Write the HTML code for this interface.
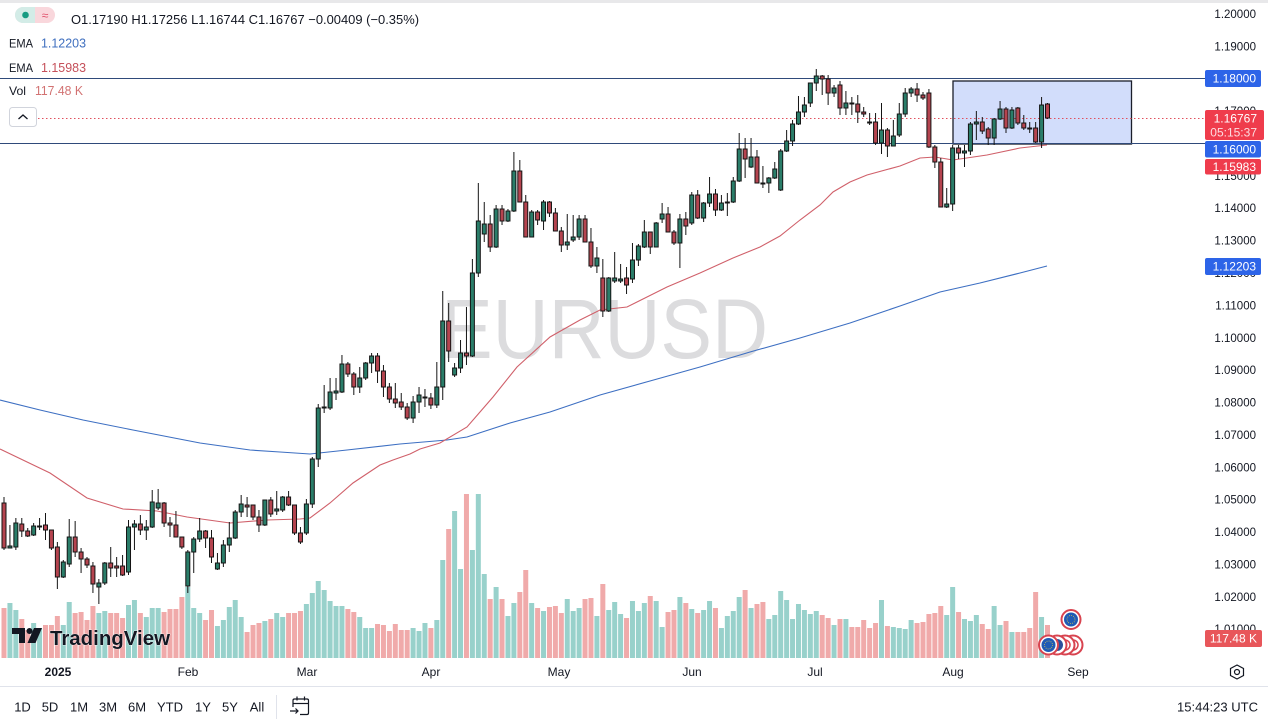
<!DOCTYPE html>
<html><head><meta charset="utf-8">
<style>
html,body{margin:0;padding:0;background:#fff;width:1268px;height:723px;overflow:hidden}
svg{display:block;font-family:"Liberation Sans",sans-serif}
</style></head><body>
<svg id="c" width="1268" height="723" viewBox="0 0 1268 723" xmlns="http://www.w3.org/2000/svg">
<rect width="1268" height="723" fill="#fff"/>
<rect width="1268" height="3" fill="#e8e8ea"/>
<text x="441" y="358" font-size="84" fill="#dcdcde" textLength="327" lengthAdjust="spacingAndGlyphs">EURUSD</text>
<g id="vol"></g>
<rect x="953" y="81" width="178.5" height="63" fill="#d2ddfb" stroke="#1b1e2a" stroke-width="1.3"/>
<polyline fill="none" stroke="#3d6fc2" stroke-width="1.1" points="0,400 40,410 83,420 133,430 200,443 250,450 280,452 310,454 347,450 400,444 447,440 467,437 510,423 550,412 600,395 650,381 700,367 750,352 800,338 850,323 900,306 940,292 980,283 1020,273 1047,266"/>
<polyline fill="none" stroke="#d0606a" stroke-width="1.1" points="0,449 50,473 87,498 123,509 157,511 187,517 230,523 267,520 300,519 310,518 330,503 353,483 380,465 393,460 410,454 420,449 440,443 467,427 480,412 493,397 517,367 550,337 580,320 600,310 627,307 667,287 700,273 733,258 760,247 780,236 800,220 820,205 833,192 850,182 867,175 900,166 920,158 935,157 953,160 987,155 1020,148 1047,145"/>
<line x1="0" y1="78.5" x2="1205" y2="78.5" stroke="#2f4a7a" stroke-width="1"/>
<line x1="0" y1="143.5" x2="1205" y2="143.5" stroke="#2f4a7a" stroke-width="1"/>
<line x1="38" y1="118.5" x2="1205" y2="118.5" stroke="#e0505e" stroke-width="1" stroke-dasharray="1.5 2.5"/>
<g id="candles"></g>

<!-- legend -->
<rect x="15" y="7" width="40" height="16" rx="8" fill="#f9d7dc"/>
<path d="M23 7 H35 V23 H23 A8 8 0 0 1 23 7 Z" fill="#d3ece7"/>
<circle cx="25.5" cy="15" r="3.3" fill="#169c82"/>
<text x="45" y="19.5" font-size="12" fill="#e0506a" text-anchor="middle">≈</text>
<text x="71" y="24" font-size="13" fill="#131722" textLength="348" lengthAdjust="spacingAndGlyphs">O1.17190 H1.17256 L1.16744 C1.16767 −0.00409 (−0.35%)</text>
<text x="9" y="47.5" font-size="12" fill="#131722" textLength="24" lengthAdjust="spacingAndGlyphs">EMA</text>
<text x="41" y="47.5" font-size="12.5" fill="#3f6fbf" textLength="45" lengthAdjust="spacingAndGlyphs">1.12203</text>
<text x="9" y="72" font-size="12" fill="#131722" textLength="24" lengthAdjust="spacingAndGlyphs">EMA</text>
<text x="41" y="72" font-size="12.5" fill="#c5505a" textLength="45" lengthAdjust="spacingAndGlyphs">1.15983</text>
<text x="9" y="95" font-size="12" fill="#131722" textLength="17" lengthAdjust="spacingAndGlyphs">Vol</text>
<text x="35" y="95" font-size="12.5" fill="#d27272" textLength="48" lengthAdjust="spacingAndGlyphs">117.48 K</text>
<rect x="9.5" y="107.5" width="27" height="19" rx="3" fill="#fff" stroke="#d1d4dc"/>
<polyline points="18.5,119 23,115 27.5,119" fill="none" stroke="#131722" stroke-width="1.3"/>

<!-- price axis -->
<g font-size="11.5" fill="#131722" text-anchor="end">
<text x="1256" y="18">1.20000</text>
<text x="1256" y="50.4">1.19000</text>
<text x="1256" y="115">1.17000</text>
<text x="1256" y="180">1.15000</text>
<text x="1256" y="212.2">1.14000</text>
<text x="1256" y="244.6">1.13000</text>
<text x="1256" y="277">1.12000</text>
<text x="1256" y="309.4">1.11000</text>
<text x="1256" y="341.8">1.10000</text>
<text x="1256" y="374.1">1.09000</text>
<text x="1256" y="406.5">1.08000</text>
<text x="1256" y="438.9">1.07000</text>
<text x="1256" y="471.3">1.06000</text>
<text x="1256" y="503.6">1.05000</text>
<text x="1256" y="536">1.04000</text>
<text x="1256" y="568.4">1.03000</text>
<text x="1256" y="600.8">1.02000</text>
<text x="1256" y="633.1">1.01000</text>
</g>
<rect x="1205" y="70" width="56" height="17" rx="2" fill="#2d64e8"/>
<text x="1256" y="82.7" font-size="12" fill="#fff" text-anchor="end">1.18000</text>
<rect x="1205" y="110" width="59" height="30" rx="2" fill="#ef3c4c"/>
<text x="1257" y="122.7" font-size="12" fill="#fff" text-anchor="end">1.16767</text>
<text x="1257" y="136.7" font-size="12" fill="#fddde1" text-anchor="end">05:15:37</text>
<rect x="1205" y="141" width="56" height="16.5" rx="2" fill="#2d64e8"/>
<text x="1256" y="153.5" font-size="12" fill="#fff" text-anchor="end">1.16000</text>
<rect x="1205" y="159" width="56" height="15.5" rx="2" fill="#ef3c4c"/>
<text x="1256" y="171" font-size="12" fill="#fff" text-anchor="end">1.15983</text>
<rect x="1205" y="258" width="56" height="17" rx="2" fill="#2d64e8"/>
<text x="1256" y="270.5" font-size="12" fill="#fff" text-anchor="end">1.12203</text>
<rect x="1205" y="630" width="57" height="17" rx="2" fill="#e8565a"/>
<text x="1257" y="642.5" font-size="12" fill="#fff" text-anchor="end">117.48 K</text>

<!-- currency icons -->
<g>
<circle cx="1073" cy="645" r="9.5" fill="#fff" stroke="#d8434f" stroke-width="2"/>
<circle cx="1073" cy="645" r="5" fill="none" stroke="#d8434f" stroke-width="1.5"/>
<circle cx="1065" cy="645" r="9.5" fill="#fff" stroke="#d8434f" stroke-width="2"/>
<circle cx="1065" cy="645" r="5" fill="none" stroke="#d8434f" stroke-width="1.5"/>
<circle cx="1057" cy="645" r="9.5" fill="#fff" stroke="#d8434f" stroke-width="2"/>
<circle cx="1057" cy="645" r="6" fill="#2a4f9c"/>
<circle cx="1048.5" cy="645" r="9.5" fill="#fff" stroke="#d8434f" stroke-width="2"/>
<circle cx="1048.5" cy="645" r="7" fill="#1f5bb5"/>
<circle cx="1048.5" cy="645" r="4" fill="none" stroke="#f5d442" stroke-width="0.8" stroke-dasharray="0.8 1.3"/>
<circle cx="1071" cy="619.5" r="9.5" fill="#fff" stroke="#d8434f" stroke-width="2"/>
<circle cx="1071" cy="619.5" r="7" fill="#1f5bb5"/>
<circle cx="1071" cy="619.5" r="4" fill="none" stroke="#f5d442" stroke-width="0.8" stroke-dasharray="0.8 1.3"/>
</g>

<!-- TradingView logo -->
<g fill="#131722">
<path d="M12 628 H25 V643 H19 V634 H12 Z"/>
<circle cx="29.5" cy="631" r="3"/>
<path d="M34 628 H42 L35.5 643 H27.5 Z"/>
</g>
<text x="50" y="645" font-size="20.5" font-weight="bold" fill="#131722" stroke="#fff" stroke-width="0.6" paint-order="stroke" textLength="120" lengthAdjust="spacingAndGlyphs">TradingView</text>

<!-- time axis -->
<g font-size="12" fill="#131722" text-anchor="middle">
<text x="58" y="676" font-weight="bold">2025</text>
<text x="188" y="676">Feb</text>
<text x="307" y="676">Mar</text>
<text x="431" y="676">Apr</text>
<text x="559" y="676">May</text>
<text x="692" y="676">Jun</text>
<text x="815" y="676">Jul</text>
<text x="953" y="676">Aug</text>
<text x="1078" y="676">Sep</text>
</g>
<g fill="none" stroke="#131722" stroke-width="1.2">
<path d="M1237 665 L1243.5 668.5 L1243.5 675.5 L1237 679 L1230.5 675.5 L1230.5 668.5 Z"/>
<circle cx="1237" cy="672" r="2.5"/>
</g>
<line x1="0" y1="686.5" x2="1268" y2="686.5" stroke="#e0e3eb" stroke-width="1"/>

<!-- bottom toolbar -->
<g font-size="13" fill="#131722" text-anchor="middle">
<text x="22.5" y="711.5">1D</text>
<text x="50" y="711.5">5D</text>
<text x="79" y="711.5">1M</text>
<text x="108" y="711.5">3M</text>
<text x="137" y="711.5">6M</text>
<text x="170" y="711.5">YTD</text>
<text x="203" y="711.5">1Y</text>
<text x="230" y="711.5">5Y</text>
<text x="257" y="711.5">All</text>
</g>
<line x1="276.5" y1="695" x2="276.5" y2="719" stroke="#e0e3eb"/>
<g fill="none" stroke="#131722" stroke-width="1.2">
<path d="M293 707 V700.5 Q293 699 294.5 699 H307 Q308.5 699 308.5 700.5 V713 Q308.5 714.5 307 714.5 H300"/>
<line x1="293" y1="703.5" x2="308.5" y2="703.5"/>
<line x1="297" y1="696.5" x2="297" y2="700.5"/>
<line x1="304.5" y1="696.5" x2="304.5" y2="700.5"/>
<path d="M290 711 H298 M295.5 708.5 L298 711 L295.5 713.5"/>
</g>
<text x="1258" y="711.5" font-size="13" fill="#131722" text-anchor="end" textLength="81" lengthAdjust="spacingAndGlyphs">15:44:23 UTC</text>
</svg>
<script>
const D=[
[503,497,550,548],[548,525,548,546],[547,518,550,523],[524,518,537,531],[531,528,537,536],[535,523,536,526],[526,518,530,526],[525,513,540,530],[530,530,550,548],[547,542,589,577],
[577,560,578,562],[564,519,567,537],[537,521,557,552],[552,548,573,559],[559,557,568,565],[566,562,593,584],[587,579,604,583],[583,562,585,563],[563,547,577,568],[566,557,577,568],
[566,555,576,575],[572,520,575,527],[527,520,550,524],[524,515,535,530],[530,520,540,527],[527,490,528,502],[508,489,510,503],[503,502,527,523],[523,517,537,525],[525,511,537,537],
[537,537,549,547],[586,550,593,552],[552,537,573,539],[539,518,542,531],[531,530,548,538],[538,530,563,557],[569,553,570,563],[563,540,567,545],[545,522,552,538],[538,510,539,512],
[512,495,517,504],[505,497,517,507],[505,505,520,517],[517,510,532,525],[525,500,526,500],[500,497,517,514],[511,491,515,509],[510,496,512,497],[497,491,506,505],[505,505,535,533],
[533,527,544,542],[533,499,535,504],[504,457,508,459],[459,404,467,408],[408,385,413,407],[408,378,410,392],[393,378,400,391],[392,355,393,364],[364,362,377,374],[374,372,395,387],
[387,367,393,378],[378,362,380,363],[363,353,373,356],[356,353,383,371],[371,365,397,387],[387,383,403,399],[399,383,408,403],[402,393,410,407],[407,403,420,418],[418,396,423,402],
[402,387,413,395],[397,389,407,397],[398,393,409,405],[405,362,408,387],[387,291,400,321],[321,303,362,351],[375,363,377,368],[368,340,373,353],[353,307,365,356],[356,259,357,273],
[273,183,277,221],[234,202,242,224],[224,215,252,247],[247,205,248,209],[209,205,225,221],[221,209,222,211],[211,152,212,171],[171,160,202,202],[202,195,237,237],[237,210,237,212],
[212,210,225,220],[221,200,230,202],[202,201,217,213],[213,208,231,231],[231,227,252,245],[245,214,250,242],[240,215,242,237],[237,215,240,219],[219,215,242,242],[242,228,268,266],
[266,247,273,258],[278,259,317,311],[311,277,312,278],[281,252,283,278],[281,264,283,279],[278,267,294,285],[279,243,283,260],[260,244,266,246],[247,220,248,232],[232,232,254,247],
[247,222,247,223],[219,203,223,214],[214,207,232,232],[232,230,245,243],[243,214,268,219],[219,212,235,226],[223,192,225,195],[195,190,219,218],[218,202,222,203],[203,177,207,194],
[194,189,216,210],[210,195,211,203],[202,193,216,202],[202,177,203,181],[181,133,182,149],[149,138,178,159],[167,138,168,157],[157,150,183,183],[183,166,188,183],[183,177,193,178],
[178,162,179,169],[190,149,191,151],[151,130,152,141],[141,120,146,124],[124,96,125,112],[112,97,117,105],[103,83,107,83],[83,69,91,76],[76,75,95,79],[79,75,105,93],
[93,85,97,88],[85,81,115,108],[108,91,115,103],[103,97,115,104],[104,95,123,112],[112,107,117,114],[122,113,125,122],[122,113,145,143],[143,103,154,130],[130,128,157,146],
[146,120,146,136],[135,103,137,114],[114,88,117,93],[93,87,97,89],[89,83,102,95],[95,92,100,98],[93,89,148,147],[147,145,168,162],[162,158,207,207],[207,188,208,204],
[204,145,211,148],[148,145,159,153],[153,145,167,151],[151,122,155,124],[124,111,140,122],[122,117,134,131],[129,127,145,138],[138,118,145,119],[119,101,120,109],[109,107,133,128],
[128,107,129,110],[108,107,125,123],[123,115,130,128],[128,122,133,128],[128,122,143,142],[142,97,148,105],[104,103,119,118]
];
const V=[[4,608],[10,603],[16,610],[22,619],[28,630],[33,623],[39,628],[45,625],[51,625],[57,616],[63,625],[69,602],[75,613],[81,612],[87,620],[93,606],[99,613],[105,611],[111,613],[117,613],[123,618],[129,605],[135,600],[141,613],[147,617],[153,608],[159,608],[165,612],[171,609],[177,609],[183,597],[189,587],[195,608],[201,613],[207,620],[213,610],[219,626],[225,620],[231,607],[237,600],[243,617],[249,632],[255,625],[261,623],[267,621],[273,619],[279,613],[285,617],[291,613],[297,613],[303,611],[309,604],[315,593],[320,581],[326,590],[332,601],[338,606],[344,606],[349,609],[355,612],[361,617],[367,628],[372,628],[379,624],[384,625],[390,631],[397,624],[403,630],[408,630],[414,628],[420,631],[426,623],[432,628],[438,620],[444,560],[450,529],[456,511],[462,569],[468,494],[474,550],[480,494],[486,574],[492,599],[498,587],[504,599],[510,616],[516,603],[522,592],[528,570],[533,603],
[538.4,608],[544.2,611],[550.3,607],[556.4,606],[562.4,613],[568.2,599],[573.9,611],[579.7,608],[585.7,599],[591.5,598],[597.2,616],[603.3,584],[609.4,610],[615.1,602],[621.2,614],[627.3,618],[633,601],[638.8,611],[644.9,603],[650.9,596],[656.7,601],[662.4,627],[668.5,612],[674.3,610],[680.3,597],[686.1,603],[692.2,609],[697.9,613],[704,610],[709.7,601],[715.8,608],[721.9,628],[727.6,616],[733.7,611],[739.5,597],[745.2,590],[751.3,608],[757,604],[763.1,602],[768.9,619],[774.9,615],[780.7,591],[786.8,600],[792.5,619],[798.6,604],[804.7,610],[810.4,614],[816.5,611],[822.2,615],[828.3,618],[834,625],[839.8,619],[845.9,619],[851.6,627],[857.7,627],[863.4,620],[869.5,628],[875.3,623],[881.4,600],[887.4,626],[893.2,627],[899.3,628],[905,629],[911.1,620],[916.8,623],[922.9,622],[928.6,614],[934.4,613],[940.5,606],[946.2,615],[952.3,587],[958.4,612],[964.1,619],[970.2,621],[975.9,615],[982,624],[987.8,629],[993.9,606],[999.6,625],[1005.7,621],[1011.4,632],[1017.5,632],[1023.2,632],[1029.3,628],[1035.7,592],[1041.8,617],[1047.5,625]];
let sv='',sc='';
const N=D.length, step=(1047.5-4)/(N-1);
let prevUp=true;
for(let k=0;k<N;k++){
  const o=D[k][0],h=D[k][1],l=D[k][2],c=D[k][3];
  const x=4+step*k;
  let up = c<o ? true : (c>o ? false : prevUp);
  prevUp=up;
  let best=V[0],bd=1e9;
  for(const p of V){const d=Math.abs(p[0]-x); if(d<bd){bd=d;best=p;}}
  sv+='<rect x="'+(x-2.5).toFixed(2)+'" y="'+best[1]+'" width="5" height="'+(658-best[1])+'" fill="'+(up?'#98d1cb':'#f0aaaa')+'"/>';
  sc+='<line x1="'+x.toFixed(2)+'" y1="'+h+'" x2="'+x.toFixed(2)+'" y2="'+l+'" stroke="#141414" stroke-width="1"/>';
  const top=Math.min(o,c), bh=Math.max(Math.abs(o-c),1);
  sc+='<rect x="'+(x-2).toFixed(2)+'" y="'+top+'" width="4" height="'+bh+'" fill="'+(up?'#2a7d69':'#b5444f')+'" stroke="#141414" stroke-width="1"/>';
}
document.getElementById('vol').innerHTML=sv;
document.getElementById('candles').innerHTML=sc;
</script>
</body></html>
